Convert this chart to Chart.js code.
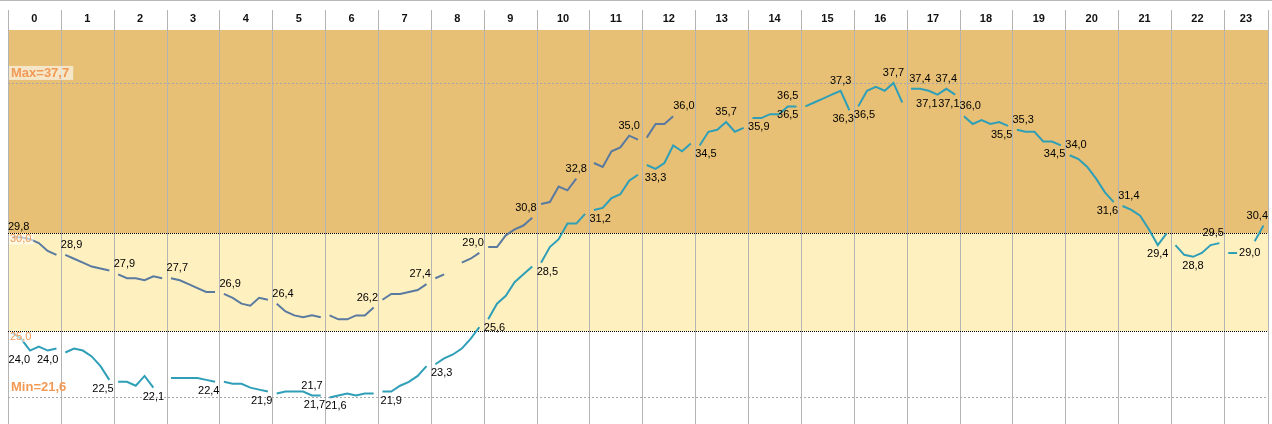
<!DOCTYPE html>
<html>
<head>
<meta charset="utf-8">
<script src="https://cdn.jsdelivr.net/npm/chart.js@4.4.1/dist/chart.umd.min.js"></script>
<style>
  html, body { margin: 0; padding: 0; background: #fff; }
  #wrap { width: 1272px; height: 424px; position: relative; }
</style>
</head>
<body>
<div id="wrap"><canvas id="temps"></canvas></div>
<script>
'use strict';

// one row per hour, readings at :05 :15 :25 :35 :45 :55 (null = missing)
const hours = ['0', '1', '2', '3', '4', '5', '6', '7', '8', '9', '10', '11',
    '12', '13', '14', '15', '16', '17', '18', '19', '20', '21', '22', '23'];

const blueTemps = [
    [29.8, 29.8, 29.7, 29.5, 29.1, 28.9],
    [28.9, 28.7, 28.5, 28.3, 28.2, 28.1],
    [27.9, 27.7, 27.7, 27.6, 27.8, 27.7],
    [27.7, 27.6, 27.4, 27.2, 27.0, 27.0],
    [26.9, 26.7, 26.4, 26.3, 26.7, 26.6],
    [26.4, 26.0, 25.8, 25.7, 25.8, 25.7],
    [25.8, 25.6, 25.6, 25.8, 25.8, 26.2],
    [26.6, 26.9, 26.9, 27.0, 27.1, 27.4],
    [27.7, 27.9, null, 28.5, 28.7, 29.0],
    [29.3, 29.3, 29.9, 30.2, 30.4, 30.8],
    [31.5, 31.6, 32.4, 32.2, 32.8, null],
    [33.6, 33.4, 34.2, 34.4, 35.0, 34.8],
    [34.9, 35.6, 35.6, 36.0, null, null]
];

const tealTemps = [
    [24.9, 24.6, 24.0, 24.2, 24.0, 24.1],
    [23.9, 24.1, 24.0, 23.7, 23.2, 22.5],
    [22.4, 22.4, 22.2, 22.7, 22.1, null],
    [22.6, 22.6, 22.6, 22.6, 22.5, 22.4],
    [22.4, 22.3, 22.3, 22.1, 22.0, 21.9],
    [21.8, 21.9, 21.9, 21.9, 21.7, 21.7],
    [21.6, 21.7, 21.8, 21.7, 21.8, 21.8],
    [21.9, 21.9, 22.2, 22.4, 22.7, 23.2],
    [23.3, 23.6, 23.8, 24.1, 24.6, 25.2],
    [25.6, 26.4, 26.8, 27.5, 27.9, 28.3],
    [28.5, 29.3, 29.7, 30.5, 30.5, 31.0],
    [31.2, 31.3, 31.8, 32.0, 32.7, 33.0],
    [33.5, 33.3, 33.6, 34.5, 34.2, 34.6],
    [34.5, 35.2, 35.3, 35.7, 35.2, 35.4],
    [35.9, 35.9, 36.1, 36.1, 36.5, 36.5],
    [36.5, 36.7, 36.9, 37.1, 37.3, 36.3],
    [36.5, 37.3, 37.5, 37.3, 37.7, 36.7],
    [37.4, 37.4, 37.3, 37.1, 37.4, 37.1],
    [36.0, 35.6, 35.8, 35.6, 35.7, 35.5],
    [35.3, 35.2, 35.2, 34.7, 34.7, 34.5],
    [34.0, 33.8, 33.4, 32.8, 32.1, 31.6],
    [31.4, 31.2, 30.9, 30.2, 29.4, 30.0],
    [29.4, 28.9, 28.8, 29.0, 29.4, 29.5],
    [29.0, 29.0, null, 29.6, 30.4]
];

const dayMax = 37.7;
const dayMin = 21.6;
const bandLow = 25;
const bandHigh = 30;

// labelled readings: [series (0 blue, 1 teal), hour, slot, side, align]
const valueLabels = [
    [0, 0, 0, 'above'], [0, 1, 0, 'above'], [0, 2, 0, 'above'], [0, 3, 0, 'above'],
    [0, 4, 0, 'above'], [0, 5, 0, 'above'], [0, 6, 5, 'above'], [0, 7, 5, 'above'],
    [0, 8, 5, 'above'], [0, 9, 5, 'above'], [0, 10, 4, 'above'], [0, 11, 4, 'above'],
    [0, 12, 3, 'above', 'start'],
    [1, 0, 2, 'below', 'end'], [1, 0, 4, 'below'], [1, 1, 5, 'below'], [1, 2, 4, 'below'],
    [1, 3, 5, 'below'], [1, 4, 5, 'below'], [1, 5, 4, 'above'], [1, 5, 5, 'below'],
    [1, 6, 0, 'below'], [1, 7, 1, 'below'], [1, 8, 0, 'below'], [1, 9, 0, 'below'],
    [1, 10, 0, 'below'], [1, 11, 0, 'below'], [1, 12, 1, 'below'],
    [1, 13, 0, 'below'], [1, 13, 3, 'above'],
    [1, 14, 0, 'below'], [1, 14, 4, 'above'], [1, 14, 4, 'below'],
    [1, 15, 4, 'above'], [1, 15, 5, 'below'],
    [1, 16, 0, 'below'], [1, 16, 4, 'above'],
    [1, 17, 1, 'above'], [1, 17, 4, 'above'], [1, 17, 3, 'below', 'end'], [1, 17, 5, 'below'],
    [1, 18, 0, 'above'], [1, 18, 5, 'below'],
    [1, 19, 0, 'above'], [1, 19, 5, 'below'],
    [1, 20, 0, 'above'], [1, 20, 5, 'below'],
    [1, 21, 0, 'above'], [1, 21, 4, 'below'],
    [1, 22, 2, 'below'], [1, 22, 5, 'above'],
    [1, 23, 1, 'right'], [1, 23, 4, 'above']
];

const slotX = (h, k) => h + (k * 10 + 5) / 60;
const fmt = v => v.toFixed(1).replace('.', ',');

function toPoints(rows) {
    const pts = [];
    rows.forEach((row, h) => {
        row.forEach((v, k) => pts.push({ x: slotX(h, k), y: v }));
        pts.push({ x: h + 1, y: null }); // break the line at every hour
    });
    return pts;
}

const ORANGE = '#f29a55';

const backdrop = {
    id: 'backdrop',
    beforeDatasetsDraw(chart) {
        const { ctx, chartArea: a, scales: { x, y } } = chart;
        const yHigh = y.getPixelForValue(bandHigh);
        const yLow = y.getPixelForValue(bandLow);
        ctx.save();
        ctx.fillStyle = '#e7c075';
        ctx.fillRect(a.left, a.top, a.width, yHigh - a.top);
        ctx.fillStyle = '#fff0c0';
        ctx.fillRect(a.left, yHigh, a.width, yLow - yHigh);

        // top rule
        ctx.strokeStyle = '#b8b8b8';
        ctx.lineWidth = 1;
        ctx.beginPath();
        ctx.moveTo(0, 0.5);
        ctx.lineTo(chart.width, 0.5);
        ctx.stroke();

        // hour columns
        ctx.strokeStyle = '#b4b4b4';
        ctx.beginPath();
        for (let h = 0; h <= hours.length; h++) {
            const px = Math.round(Math.min(x.getPixelForValue(h), a.right)) + 0.5;
            ctx.moveTo(px, a.top - 20);
            ctx.lineTo(px, a.bottom);
        }
        ctx.stroke();

        ctx.font = 'bold 11px Arial, "Liberation Sans", sans-serif';
        ctx.fillStyle = '#111';
        ctx.textAlign = 'center';
        ctx.textBaseline = 'middle';
        hours.forEach((lbl, h) => {
            const c0 = x.getPixelForValue(h);
            const c1 = Math.min(x.getPixelForValue(h + 1), a.right);
            ctx.fillText(lbl, (c0 + c1) / 2, a.top - 11);
        });

        // max / min rules
        ctx.strokeStyle = '#a8a8a8';
        ctx.setLineDash([2, 2]);
        [dayMax, dayMin].forEach(v => {
            const py = Math.round(y.getPixelForValue(v)) + 0.5;
            ctx.beginPath();
            ctx.moveTo(a.left, py);
            ctx.lineTo(a.right, py);
            ctx.stroke();
        });

        // band limits
        ctx.strokeStyle = '#000';
        ctx.setLineDash([1, 1]);
        [bandHigh, bandLow].forEach(v => {
            const py = Math.round(y.getPixelForValue(v)) + 0.5;
            ctx.beginPath();
            ctx.moveTo(a.left, py);
            ctx.lineTo(a.right, py);
            ctx.stroke();
        });
        ctx.restore();
    },
    afterDatasetsDraw(chart) {
        const { ctx, chartArea: a, scales: { x, y } } = chart;
        ctx.save();
        ctx.textBaseline = 'middle';
        ctx.textAlign = 'left';

        // band limit captions
        ctx.font = '11px Arial, "Liberation Sans", sans-serif';
        [bandHigh, bandLow].forEach(v => {
            const py = y.getPixelForValue(v);
            const txt = fmt(v);
            const w = ctx.measureText(txt).width;
            ctx.fillStyle = 'rgba(255,255,255,0.6)';
            ctx.fillRect(a.left + 1, py + 1, w + 3, 10);
            ctx.fillStyle = ORANGE;
            ctx.fillText(txt, a.left + 2, py + 6);
        });

        // max / min captions
        ctx.font = 'bold 13px Arial, "Liberation Sans", sans-serif';
        const maxTxt = 'Max=' + fmt(dayMax);
        const pMax = y.getPixelForValue(dayMax);
        const wMax = ctx.measureText(maxTxt).width;
        ctx.fillStyle = 'rgba(255,255,255,0.6)';
        ctx.fillRect(a.left + 1, pMax - 17, wMax + 6, 14);
        ctx.fillStyle = ORANGE;
        ctx.fillText(maxTxt, a.left + 3, pMax - 10);
        ctx.fillText('Min=' + fmt(dayMin), a.left + 3, y.getPixelForValue(dayMin) - 10);

        // reading labels
        ctx.font = '11px Arial, "Liberation Sans", sans-serif';
        ctx.fillStyle = '#000';
        valueLabels.forEach(([s, h, k, side, align]) => {
            const v = (s === 0 ? blueTemps : tealTemps)[h][k];
            const px = x.getPixelForValue(slotX(h, k));
            const py = y.getPixelForValue(v);
            const txt = fmt(v);
            const w = ctx.measureText(txt).width;
            let left;
            if (side === 'right') left = px + 2;
            else if (align === 'start') left = px;
            else if (align === 'end') left = px - w;
            else left = px - w / 2;
            const c0 = x.getPixelForValue(h);
            const c1 = Math.min(x.getPixelForValue(h + 1), a.right);
            left = Math.max(c0, Math.min(left, c1 - w));
            const ty = side === 'above' ? py - 10 : side === 'below' ? py + 9 : py;
            ctx.fillText(txt, left, ty);
        });
        ctx.restore();
    }
};

new Chart(document.getElementById('temps'), {
    type: 'line',
    data: {
        datasets: [{
            label: 'blue',
            data: toPoints(blueTemps),
            borderColor: '#5a7aa0',
            borderWidth: 2,
            pointRadius: 0,
            spanGaps: false,
            tension: 0
        }, {
            label: 'teal',
            data: toPoints(tealTemps),
            borderColor: '#2f9fb8',
            borderWidth: 2,
            pointRadius: 0,
            spanGaps: false,
            tension: 0
        }]
    },
    options: {
        responsive: true,
        maintainAspectRatio: false,
        animation: false,
        layout: { padding: { left: 8, right: 4, top: 30, bottom: 0 } },
        scales: {
            x: { type: 'linear', min: 0, max: 23.835, display: false },
            y: { type: 'linear', min: 20.24, max: 40.41, display: false }
        },
        plugins: {
            legend: { display: false },
            tooltip: { enabled: false }
        }
    },
    plugins: [backdrop]
});
</script>
</body>
</html>
